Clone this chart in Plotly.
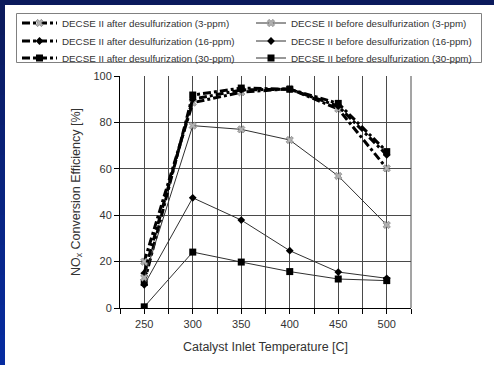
import plotly.graph_objects as go

temps = [250, 300, 350, 400, 450, 500]
after_3 = [20, 88.5, 93, 94.5, 85.8, 60.2]
after_16 = [15, 90, 94, 94.3, 87, 66]
after_30 = [11, 91.8, 94.8, 94.3, 88.2, 67.4]
before_3 = [13, 78.6, 77, 72.4, 56.9, 35.8]
before_16 = [10, 47.5, 37.9, 24.7, 15.5, 12.8]
before_30 = [0.5, 24.1, 19.8, 15.7, 12.5, 11.8]

names_after = ["DECSE II after desulfurization (3-ppm)",
               "DECSE II after desulfurization (16-ppm)",
               "DECSE II after desulfurization (30-ppm)"]
names_before = ["DECSE II before desulfurization (3-ppm)",
                "DECSE II before desulfurization (16-ppm)",
                "DECSE II before desulfurization (30-ppm)"]
x_ticks = [250, 300, 350, 400, 450, 500]
y_ticks = [0, 20, 40, 60, 80, 100]

W, H = 494, 365
ML, MR, MT, MB = 120, 83, 76, 57
PW, PH = W - ML - MR, H - MT - MB

def px2x(p):
    return (p - ML) / PW

def px2y(p):
    return (H - MB - p) / PH

FONT = "Arial, Liberation Sans, sans-serif"
TXT = "#333333"
GRID = "#4a4a4a"

x_marker = dict(symbol="x", size=6.5, color="#b0b0b0", line=dict(color="#606060", width=0.5))
d_marker = dict(symbol="diamond", size=6, color="black")
s_marker = dict(symbol="square", size=7, color="black")
markers = [x_marker, d_marker, s_marker]

row_y = [23, 41, 58]
col_x = [17, 251]
col_itemwidth = [35, 30]

fig = go.Figure()
after_dash = "8px,3px,3px,3px"
legends = {}
k = 1
for col, (names, series, lstyle) in enumerate([
        (names_after, [after_3, after_16, after_30], dict(color="black", width=3, dash=after_dash)),
        (names_before, [before_3, before_16, before_30], dict(color="#303030", width=1))]):
    for row, (name, vals, mk) in enumerate(zip(names, series, markers)):
        k += 1
        lid = "legend%d" % k
        fig.add_trace(go.Scatter(x=temps, y=vals, name=name, mode="lines+markers",
                                 line=lstyle, marker=mk, legend=lid))
        legends[lid] = dict(x=px2x(col_x[col]), y=px2y(row_y[row]), xanchor="left", yanchor="middle",
                            font=dict(size=9.8, family=FONT, color=TXT), bgcolor="rgba(0,0,0,0)",
                            itemwidth=col_itemwidth[col], borderwidth=0)

shapes = []
shapes.append(dict(type="rect", xref="paper", yref="paper",
                   x0=px2x(0), x1=px2x(W), y0=px2y(5), y1=px2y(0),
                   fillcolor="#0b1a5c", line=dict(width=0), layer="below"))
n = 24
c0 = (11, 26, 92)
c1 = (6, 44, 160)
for i in range(n):
    t = i / (n - 1)
    c = tuple(int(round(c0[j] + (c1[j] - c0[j]) * t)) for j in range(3))
    y_top = 5 + (H - 5) * i / n
    y_bot = 5 + (H - 5) * (i + 1) / n + 0.5
    shapes.append(dict(type="rect", xref="paper", yref="paper",
                       x0=px2x(0), x1=px2x(5), y0=px2y(y_bot), y1=px2y(y_top),
                       fillcolor="rgb(%d,%d,%d)" % c, line=dict(width=0), layer="below"))
shapes.append(dict(type="rect", xref="paper", yref="paper",
                   x0=px2x(16.5), x1=px2x(481.5), y0=px2y(62.5), y1=px2y(13.5),
                   fillcolor="rgba(0,0,0,0)", line=dict(color="#808080", width=1)))
shapes.append(dict(type="line", xref="paper", yref="paper", x0=1, x1=1, y0=0, y1=1,
                   line=dict(color=GRID, width=1)))

fig.update_layout(
    width=W, height=H,
    margin=dict(l=ML, r=MR, t=MT, b=MB, autoexpand=False),
    paper_bgcolor="white", plot_bgcolor="white",
    font=dict(family=FONT, color=TXT, size=11),
    showlegend=True,
    shapes=shapes,
    xaxis=dict(range=[225, 525], tickvals=x_ticks, ticktext=[str(v) for v in x_ticks],
               ticks="", showgrid=True, gridcolor=GRID, gridwidth=1,
               showline=True, linecolor="black", linewidth=1, zeroline=False,
               ticklabelstandoff=6,
               minor=dict(tick0=225, dtick=25, ticks="outside", ticklen=5, tickcolor="black",
                          showgrid=True, gridcolor=GRID, gridwidth=1),
               title=dict(text="Catalyst Inlet Temperature [C]", font=dict(size=12.5), standoff=13),
               tickfont=dict(size=11)),
    yaxis=dict(range=[0, 100], tickvals=y_ticks, ticks="outside", ticklen=5, tickcolor="black",
               showgrid=True, gridcolor=GRID, gridwidth=1,
               showline=True, linecolor="black", linewidth=1, zeroline=False,
               title=dict(text="NO<sub>x</sub> Conversion Efficiency [%]", font=dict(size=12.5), standoff=10),
               tickfont=dict(size=11)),
)
fig.update_layout(**legends)

fig.write_html("out.html")
